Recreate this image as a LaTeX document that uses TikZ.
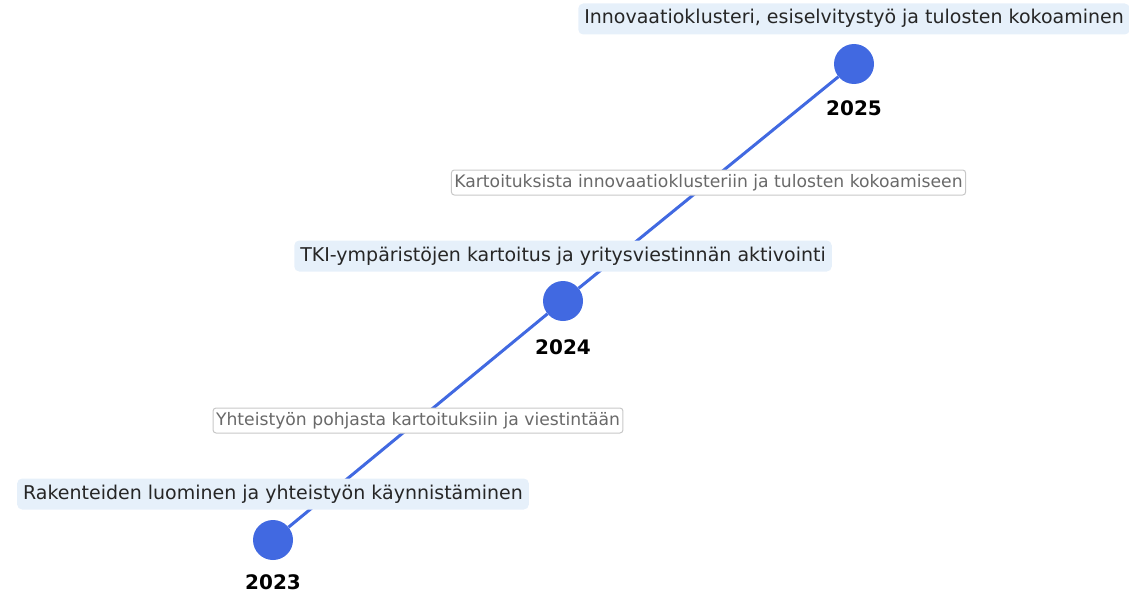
\documentclass[tikz,border=0pt]{standalone}
\usepackage{fontspec}
\setmainfont{DejaVu Sans}
\usetikzlibrary{calc}
\definecolor{royal}{RGB}{65,105,225}
\definecolor{phasebg}{RGB}{230,240,250}
\definecolor{transtext}{RGB}{105,105,105}
\definecolor{transframe}{RGB}{200,200,200}

\begin{document}
\begin{tikzpicture}[x=1pt,y=-1pt,
    milestone/.style={circle, fill=royal, minimum size=40pt, inner sep=0pt},
    phase/.style={fill=phasebg, rounded corners=5pt, text=black!85,
        font=\fontsize{19}{22}\selectfont, text height=14.5pt, text depth=4.5pt,
        inner xsep=6pt, inner ysep=6pt},
    yearlabel/.style={font=\fontsize{20}{24}\selectfont\bfseries},
    transition/.style={fill=white, draw=transframe, line width=1pt, rounded corners=3pt,
        text=transtext, font=\fontsize{17.2}{20}\selectfont, text height=13pt,
        text depth=4pt, inner xsep=3pt, inner ysep=4pt}]
    \useasboundingbox (0,0) rectangle (1129,594);

    % Milestones
    \node[milestone] (m2023) at (273,540) {};
    \node[milestone] (m2024) at (563,301) {};
    \node[milestone] (m2025) at (854,64) {};

    % Timeline
    \draw[royal, line width=3pt] (m2023) -- (m2024) -- (m2025);

    % Years
    \foreach \y/\x/\yy in {2023/273/582, 2024/563/347, 2025/854/108} {
        \node[yearlabel] (year\y) at (\x,\yy) {\y};
    }

    % Phases
    \node[phase] (p2023) at ($(m2023)+(0,-46)$) {Rakenteiden luominen ja yhteistyön käynnistäminen};
    \node[phase] (p2024) at ($(m2024)+(0,-45)$) {TKI-ympäristöjen kartoitus ja yritysviestinnän aktivointi};
    \node[phase] (p2025) at ($(m2025)+(0,-45)$) {Innovaatioklusteri, esiselvitystyö ja tulosten kokoaminen};

    % Transitions
    \node[transition] (t1) at ($(m2023)!0.5!(m2024)$) {Yhteistyön pohjasta kartoituksiin ja viestintään};
    \node[transition] (t2) at ($(m2024)!0.5!(m2025)$) {Kartoituksista innovaatioklusteriin ja tulosten kokoamiseen};
\end{tikzpicture}
\end{document}
